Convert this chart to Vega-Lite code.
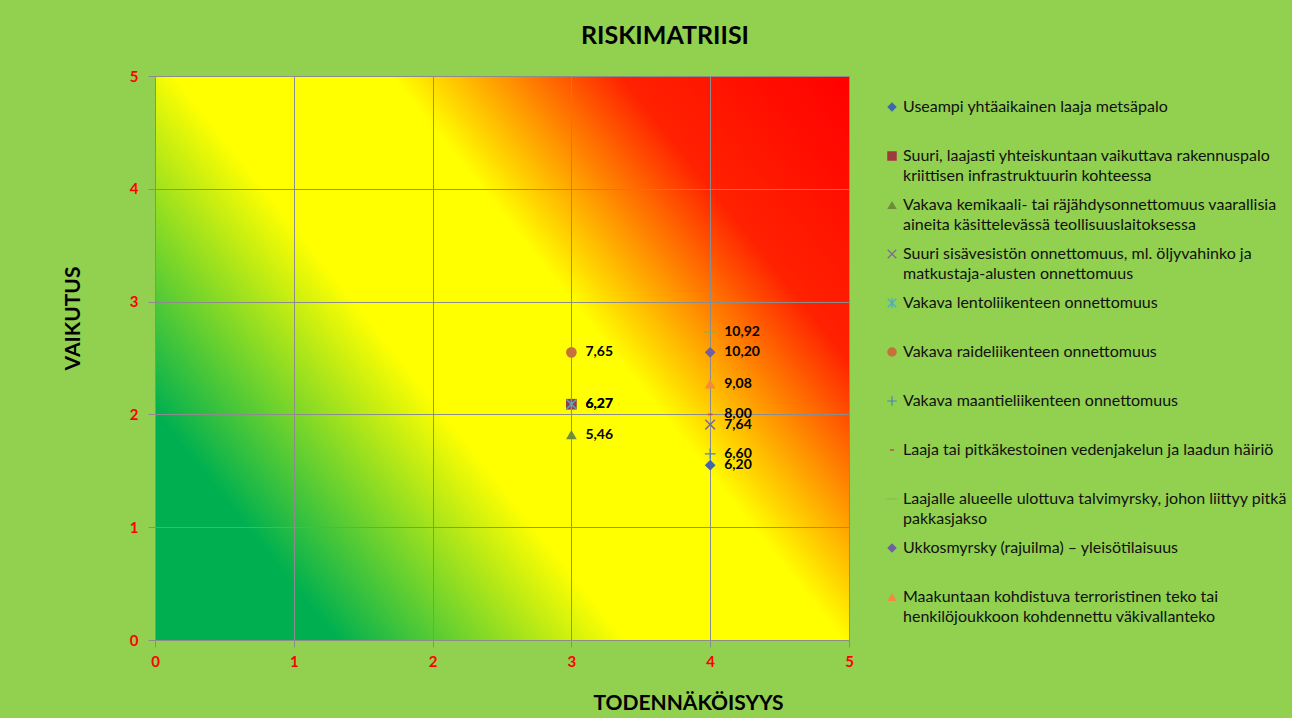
{
  "$schema": "https://vega.github.io/schema/vega-lite/v6.json",
  "width": 694,
  "height": 564,
  "autosize": {"type": "none"},
  "padding": {"left": 155, "top": 76, "right": 443, "bottom": 78},
  "background": "#92D050",
  "title": {
    "text": "RISKIMATRIISI",
    "anchor": "middle",
    "frame": "group",
    "dx": 163,
    "offset": 0,
    "baseline": "alphabetic",
    "font": "Lato",
    "fontSize": 25,
    "fontWeight": "bold",
    "color": "#000000"
  },
  "view": {
    "stroke": null,
    "fill": {
      "gradient": "linear",
      "x1": 0,
      "y1": 1,
      "x2": 1.161,
      "y2": 0.245,
      "stops": [
        {"offset": 0, "color": "#00B050"},
        {"offset": 0.16, "color": "#00B050"},
        {"offset": 0.41, "color": "#FFFF00"},
        {"offset": 0.6, "color": "#FFFF00"},
        {"offset": 0.8, "color": "#FF2200"},
        {"offset": 1, "color": "#FF0000"}
      ]
    }
  },
  "config": {
    "locale": {
      "number": {"decimal": ",", "thousands": " ", "grouping": [3], "currency": ["", " €"]}
    }
  },
  "data": {
    "values": [
      {"uhka": "Useampi yhtäaikainen laaja metsäpalo", "todennakoisyys": 4, "vaikutus": 1.55, "riski": 6.20},
      {"uhka": "Suuri, laajasti yhteiskuntaan vaikuttava rakennuspalo\nkriittisen infrastruktuurin kohteessa", "todennakoisyys": 3, "vaikutus": 2.09, "riski": 6.27},
      {"uhka": "Vakava kemikaali- tai räjähdysonnettomuus vaarallisia\naineita käsittelevässä teollisuuslaitoksessa", "todennakoisyys": 3, "vaikutus": 1.82, "riski": 5.46},
      {"uhka": "Suuri sisävesistön onnettomuus, ml. öljyvahinko ja\nmatkustaja-alusten onnettomuus", "todennakoisyys": 4, "vaikutus": 1.91, "riski": 7.64},
      {"uhka": "Vakava lentoliikenteen onnettomuus", "todennakoisyys": 3, "vaikutus": 2.09, "riski": 6.27},
      {"uhka": "Vakava raideliikenteen onnettomuus", "todennakoisyys": 3, "vaikutus": 2.55, "riski": 7.65},
      {"uhka": "Vakava maantieliikenteen onnettomuus", "todennakoisyys": 4, "vaikutus": 1.65, "riski": 6.60},
      {"uhka": "Laaja tai pitkäkestoinen vedenjakelun ja laadun häiriö", "todennakoisyys": 4, "vaikutus": 2.0, "riski": 8.00},
      {"uhka": "Laajalle alueelle ulottuva talvimyrsky, johon liittyy pitkä\npakkasjakso", "todennakoisyys": 4, "vaikutus": 2.73, "riski": 10.92},
      {"uhka": "Ukkosmyrsky (rajuilma) – yleisötilaisuus", "todennakoisyys": 4, "vaikutus": 2.55, "riski": 10.20},
      {"uhka": "Maakuntaan kohdistuva terroristinen teko tai\nhenkilöjoukkoon kohdennettu väkivallanteko", "todennakoisyys": 4, "vaikutus": 2.27, "riski": 9.08}
    ]
  },
  "layer": [
    {
      "mark": {"type": "point", "filled": true, "size": 115, "opacity": 1, "strokeWidth": 0},
      "encoding": {
        "x": {
          "field": "todennakoisyys",
          "type": "quantitative",
          "scale": {"domain": [0, 5], "nice": false},
          "axis": {
            "title": "TODENNÄKÖISYYS",
            "values": [0, 1, 2, 3, 4, 5],
            "format": "d",
            "grid": true,
            "gridColor": "#8C8C8C",
            "gridOpacity": 1,
            "gridWidth": 1,
            "domainColor": "#8C8C8C",
            "tickColor": "#8C8C8C",
            "tickSize": 7,
            "labelFlush": false,
            "labelOverlap": false,
            "labelColor": "#FF0000",
            "labelFont": "Lato",
            "labelFontWeight": "bold",
            "labelFontSize": 15,
            "labelPadding": 7,
            "titleFont": "Lato",
            "titleFontSize": 21,
            "titleFontWeight": "bold",
            "titleColor": "#000000",
            "titleX": 533,
            "titleY": 63,
            "titleAlign": "center",
            "titleBaseline": "middle"
          }
        },
        "y": {
          "field": "vaikutus",
          "type": "quantitative",
          "scale": {"domain": [0, 5], "nice": false},
          "axis": {
            "title": "VAIKUTUS",
            "values": [0, 1, 2, 3, 4, 5],
            "format": "d",
            "grid": true,
            "gridColor": "#8C8C8C",
            "gridOpacity": 1,
            "gridWidth": 1,
            "domainColor": "#8C8C8C",
            "tickColor": "#8C8C8C",
            "tickSize": 7,
            "labelFlush": false,
            "labelOverlap": false,
            "labelColor": "#FF0000",
            "labelFont": "Lato",
            "labelFontWeight": "bold",
            "labelFontSize": 15,
            "labelPadding": 10,
            "titleFont": "Lato",
            "titleFontSize": 21,
            "titleFontWeight": "bold",
            "titleColor": "#000000",
            "titleX": -82,
            "titleY": 242,
            "titleAngle": 270,
            "titleAlign": "center",
            "titleBaseline": "middle"
          }
        },
        "fill": {
          "field": "uhka",
          "type": "nominal",
          "scale": {
            "domain": [
              "Useampi yhtäaikainen laaja metsäpalo",
              "Suuri, laajasti yhteiskuntaan vaikuttava rakennuspalo\nkriittisen infrastruktuurin kohteessa",
              "Vakava kemikaali- tai räjähdysonnettomuus vaarallisia\naineita käsittelevässä teollisuuslaitoksessa",
              "Suuri sisävesistön onnettomuus, ml. öljyvahinko ja\nmatkustaja-alusten onnettomuus",
              "Vakava lentoliikenteen onnettomuus",
              "Vakava raideliikenteen onnettomuus",
              "Vakava maantieliikenteen onnettomuus",
              "Laaja tai pitkäkestoinen vedenjakelun ja laadun häiriö",
              "Laajalle alueelle ulottuva talvimyrsky, johon liittyy pitkä\npakkasjakso",
              "Ukkosmyrsky (rajuilma) – yleisötilaisuus",
              "Maakuntaan kohdistuva terroristinen teko tai\nhenkilöjoukkoon kohdennettu väkivallanteko"
            ],
            "range": ["#3F66AF", "#A0393C", "#6E8C3B", "#7D6B91", "#4BACC6", "#C5713A", "#4F81BD", "#C0504D", "#8DB050", "#6F5FA5", "#F08C3C"]
          },
          "legend": {
            "title": null,
            "orient": "none",
            "legendX": 729,
            "legendY": 23,
            "direction": "vertical",
            "padding": 0,
            "symbolSize": 90,
            "symbolOpacity": 1,
            "symbolStrokeWidth": 0,
            "clipHeight": 45,
            "rowPadding": 4,
            "labelFont": "Lato",
            "labelFontSize": 16,
            "labelColor": "#111111",
            "labelLimit": 500,
            "labelBaseline": "top",
            "labelOffset": 3,
            "labelExpr": "split(datum.label, '\\n')",
            "encode": {
              "symbols": {"update": {"y": {"value": 8}}},
              "labels": {"update": {"y": {"value": 0}, "lineHeight": {"value": 20}}}
            }
          }
        },
        "shape": {
          "field": "uhka",
          "type": "nominal",
          "scale": {
            "domain": [
              "Useampi yhtäaikainen laaja metsäpalo",
              "Suuri, laajasti yhteiskuntaan vaikuttava rakennuspalo\nkriittisen infrastruktuurin kohteessa",
              "Vakava kemikaali- tai räjähdysonnettomuus vaarallisia\naineita käsittelevässä teollisuuslaitoksessa",
              "Suuri sisävesistön onnettomuus, ml. öljyvahinko ja\nmatkustaja-alusten onnettomuus",
              "Vakava lentoliikenteen onnettomuus",
              "Vakava raideliikenteen onnettomuus",
              "Vakava maantieliikenteen onnettomuus",
              "Laaja tai pitkäkestoinen vedenjakelun ja laadun häiriö",
              "Laajalle alueelle ulottuva talvimyrsky, johon liittyy pitkä\npakkasjakso",
              "Ukkosmyrsky (rajuilma) – yleisötilaisuus",
              "Maakuntaan kohdistuva terroristinen teko tai\nhenkilöjoukkoon kohdennettu väkivallanteko"
            ],
            "range": [
              "diamond",
              "square",
              "triangle-up",
              "M-1,-0.8L-0.8,-1L0,-0.2L0.8,-1L1,-0.8L0.2,0L1,0.8L0.8,1L0,0.2L-0.8,1L-1,0.8L-0.2,0Z",
              "M-1,-0.8L-0.8,-1L0,-0.2L0.8,-1L1,-0.8L0.2,0L1,0.8L0.8,1L0,0.2L-0.8,1L-1,0.8L-0.2,0ZM-0.13,-1.15L0.13,-1.15L0.13,1.15L-0.13,1.15Z",
              "circle",
              "M-0.13,-1L0.13,-1L0.13,-0.13L1,-0.13L1,0.13L0.13,0.13L0.13,1L-0.13,1L-0.13,0.13L-1,0.13L-1,-0.13L-0.13,-0.13Z",
              "M-0.45,-0.15L0.45,-0.15L0.45,0.15L-0.45,0.15Z",
              "M-1.1,-0.12L1.1,-0.12L1.1,0.12L-1.1,0.12Z",
              "diamond",
              "triangle-up"
            ]
          },
          "legend": {
            "title": null,
            "orient": "none",
            "legendX": 729,
            "legendY": 23,
            "direction": "vertical",
            "padding": 0,
            "symbolSize": 90,
            "symbolOpacity": 1,
            "symbolStrokeWidth": 0,
            "clipHeight": 45,
            "rowPadding": 4,
            "labelFont": "Lato",
            "labelFontSize": 16,
            "labelColor": "#111111",
            "labelLimit": 500,
            "labelBaseline": "top",
            "labelOffset": 3,
            "labelExpr": "split(datum.label, '\\n')",
            "encode": {
              "symbols": {"update": {"y": {"value": 8}}},
              "labels": {"update": {"y": {"value": 0}, "lineHeight": {"value": 20}}}
            }
          }
        }
      }
    },
    {
      "mark": {
        "type": "text",
        "align": "left",
        "baseline": "middle",
        "dx": 14,
        "font": "Lato",
        "fontWeight": "bold",
        "fontSize": 14,
        "color": "#000000"
      },
      "encoding": {
        "x": {"field": "todennakoisyys", "type": "quantitative"},
        "y": {"field": "vaikutus", "type": "quantitative"},
        "text": {"field": "riski", "type": "quantitative", "format": ".2f"}
      }
    }
  ]
}
